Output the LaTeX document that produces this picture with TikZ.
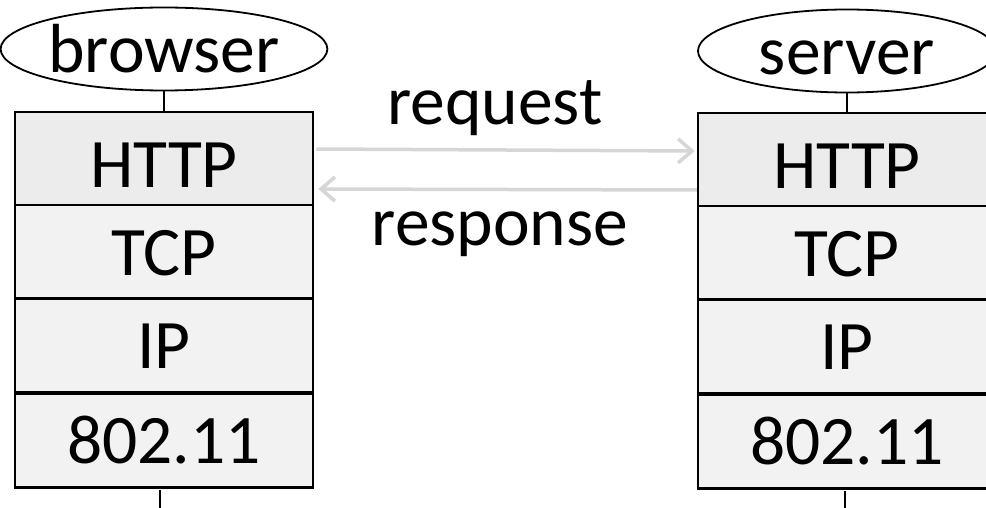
\documentclass[tikz,border=0pt]{standalone}
\usepackage{fontspec}
\setmainfont{Carlito}
\usetikzlibrary{arrows.meta,shapes.geometric,calc}
\definecolor{layerfill}{RGB}{242,242,242}
\definecolor{topfill}{RGB}{236,236,236}
\definecolor{arrowgray}{RGB}{214,214,214}
\tikzset{
  bigtext/.style={font=\fontsize{69.5}{74}\selectfont},
  layer/.style={draw=black, line width=2.5pt, fill=layerfill, rectangle,
    minimum width=298pt, minimum height=94pt, inner sep=0pt, bigtext,
    text height=46pt, text depth=0pt},
  toplayer/.style={layer, fill=topfill, text height=57pt},
  host/.style={draw=black, line width=1.8pt, ellipse, fill=white,
    minimum width=298pt, minimum height=83pt, inner sep=0pt, bigtext,
    text height=48pt, text depth=0pt},
  wire/.style={draw=black, line width=2pt},
  msg/.style={draw=arrowgray, line width=3.5pt,
    -{Straight Barb[length=14pt,width=24pt,line width=3.5pt]}},
  label/.style={bigtext, inner sep=0pt, anchor=base}
}
\begin{document}
\begin{tikzpicture}[x=1pt,y=-1pt]
\useasboundingbox (0,0) rectangle (986,508);
% browser stack
\node[host] (bh) at (164,49) {browser};
\node[toplayer] (b1) at (164,159) {HTTP};
\node[layer] (b2) at (164,252) {TCP};
\node[layer] (b3) at (164,345.5) {IP};
\node[layer] (b4) at (164,440.5) {802.11};
% server stack
\node[host] (sh) at (847,51) {server};
\node[toplayer] (s1) at (847,160) {HTTP};
\node[layer] (s2) at (847,253) {TCP};
\node[layer] (s3) at (847,346.5) {IP};
\node[layer] (s4) at (847,441.5) {802.11};
% wires
\draw[wire] (bh.south) -- (b1.north);
\draw[wire] (sh.south) -- (s1.north);
\coordinate (bdown) at (160,510);
\coordinate (sdown) at (845,510);
\draw[wire] ($(b4.south)+(-4,1)$) -- (bdown);
\draw[wire] ($(s4.south)+(-2,1)$) -- (sdown);
% messages
\draw[msg] ($(b1.east)+(2,-10)$) -- ($(s1.west)+(-2,-9)$);
\draw[msg] ($(s1.west)+(0,30)$) -- ($(b1.east)+(4,30)$);
\node[label] (req) at (495,125) {request};
\node[label] (resp) at (500,245) {response};
\end{tikzpicture}
\end{document}
